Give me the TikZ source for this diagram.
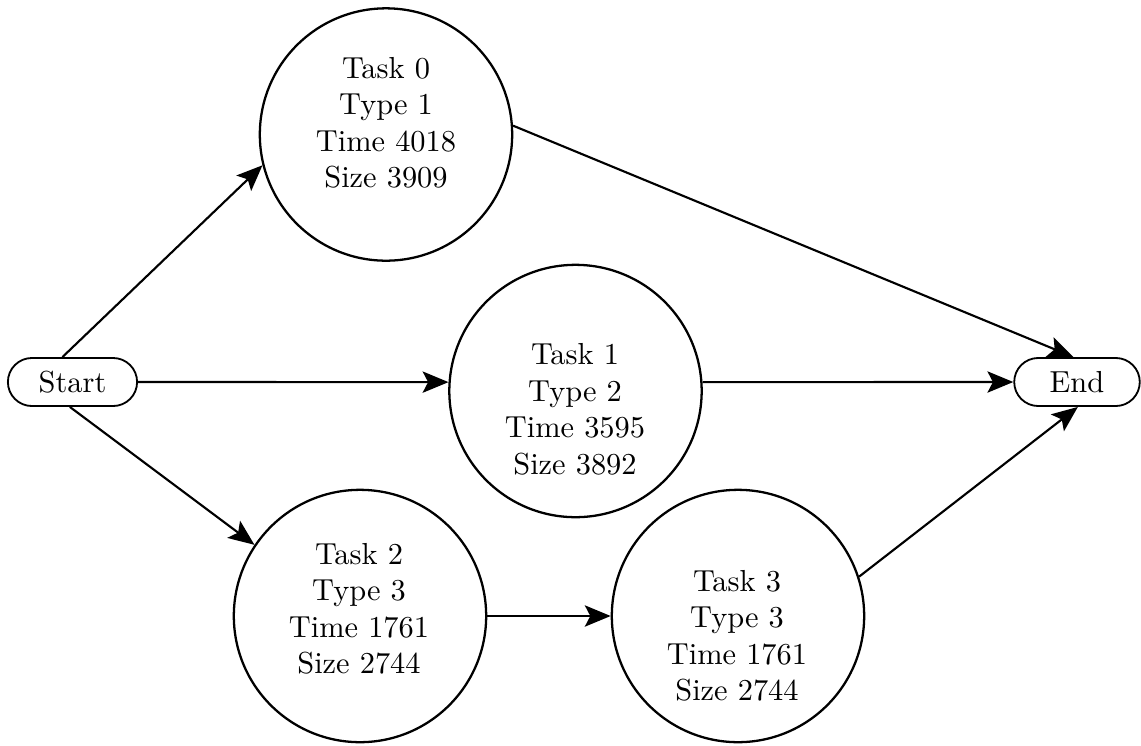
\documentclass[tikz,border=0pt]{standalone}
\usetikzlibrary{arrows.meta}
\begin{document}
\begin{tikzpicture}[x=0.3289pt,y=-0.3289pt,
  tasknode/.style={draw, circle, minimum size=83pt, inner sep=0pt, line width=0.75pt},
  tasklabel/.style={align=center, inner sep=0pt},
  terminal/.style={draw, rectangle, rounded corners=7.9pt, minimum height=15.8pt, inner sep=0pt, line width=0.6pt},
  edge/.style={-{Stealth[length=8.5pt,width=7pt,inset=1.8pt]}, line width=0.7pt}]
  \useasboundingbox (0,0) rectangle (1141,745);

  % terminals
  \node[terminal, minimum width=42.5pt] (start) at (72.5,382) {Start};
  \node[terminal, minimum width=41.3pt] (end) at (1077,382) {End};

  % task circles
  \node[tasknode] (t0) at (386,134.5) {};
  \node[tasknode] (t1) at (575.5,391) {};
  \node[tasknode] (t2) at (360,616) {};
  \node[tasknode] (t3) at (738,616) {};

  % task texts
  \node[tasklabel] (l0) at (386,123) {Task 0\\Type 1\\Time 4018\\Size 3909};
  \node[tasklabel] (l1) at (575,409.5) {Task 1\\Type 2\\Time 3595\\Size 3892};
  \node[tasklabel] (l2) at (359,609) {Task 2\\Type 3\\Time 1761\\Size 2744};
  \node[tasklabel] (l3) at (737,636) {Task 3\\Type 3\\Time 1761\\Size 2744};

  % connectors
  \draw[edge] (start.112) -- (t0.194);
  \draw[edge] (start.east) -- (t1.176);
  \draw[edge] (start.264) -- (t2.146);
  \draw[edge] (t0.4) -- (end.98);
  \draw[edge] (t1.4) -- (end.west);
  \draw[edge] (t2.east) -- (t3.west);
  \draw[edge] (t3.18) -- (end.272);
\end{tikzpicture}
\end{document}
